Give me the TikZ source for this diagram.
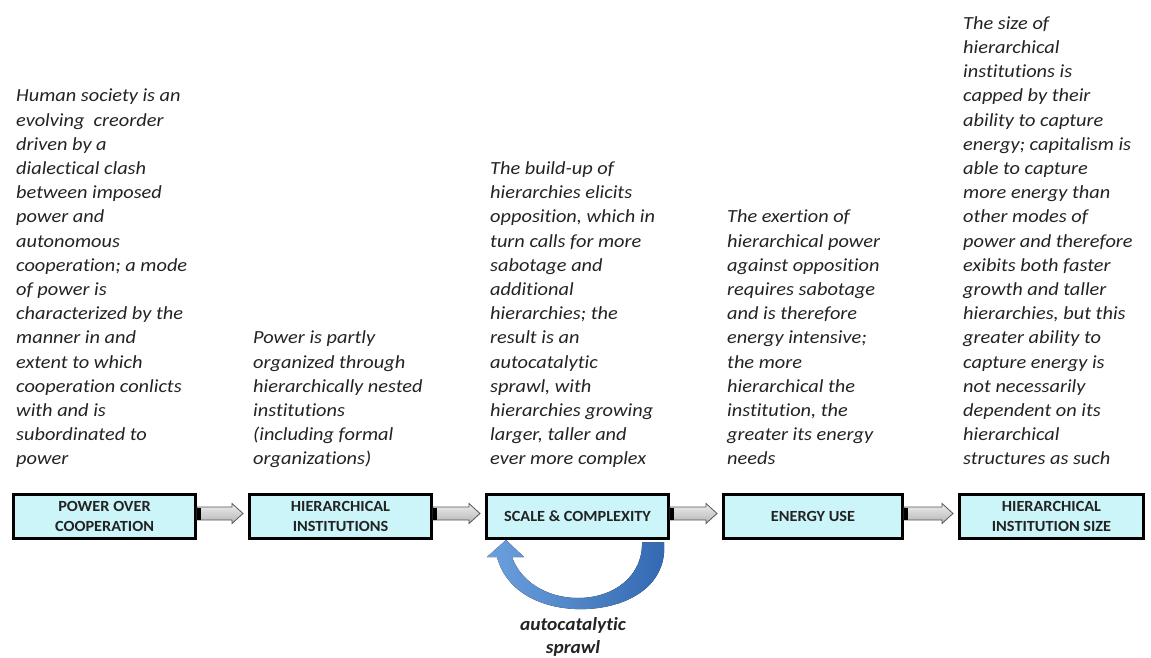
\documentclass[tikz,border=0pt]{standalone}
\usepackage{fontspec}
\setmainfont{Carlito}
\newfontfamily\descfont{Carlito}[FakeStretch=1.1, Ligatures=CommonOff]
\newfontfamily\labelfont{Carlito}[FakeStretch=1.05, Ligatures=CommonOff]
\usetikzlibrary{calc}
\definecolor{boxfill}{RGB}{204,245,250}
\definecolor{txt}{RGB}{35,35,35}
\definecolor{arrtop}{RGB}{238,238,238}
\definecolor{arrbot}{RGB}{180,180,180}
\definecolor{arrline}{RGB}{85,85,85}
\definecolor{bluedark}{RGB}{50,104,176}
\definecolor{bluelight}{RGB}{108,160,222}
\newcommand\flowarrow[2]{%
  \draw[arrline, line width=0.8pt, top color=arrtop, bottom color=arrbot]
    ($(#1.east)+(0,-9.5)$) -- ($(#2.west)+(-16,-9.5)$) -- ($(#2.west)+(-16,-13)$)
    -- ($(#2.west)+(-5,-3)$) -- ($(#2.west)+(-16,7)$) -- ($(#2.west)+(-16,3.5)$)
    -- ($(#1.east)+(0,3.5)$) -- cycle;
  \fill[black] ($(#1.east)+(0,-9)$) rectangle ($(#1.east)+(3.5,3)$);
}
\begin{document}
\begin{tikzpicture}[x=1pt,y=-1pt,
  desc/.style={anchor=south west, inner sep=0pt, align=left, text=txt,
    font=\descfont\fontsize{18.5}{24.2}\selectfont\itshape},
  stage/.style={draw=black, line width=2.6pt, fill=boxfill, minimum height=44.4pt,
    inner sep=0pt, align=center, text=txt,
    font=\labelfont\fontsize{15.5}{20}\selectfont\bfseries},
  loopfill/.style={left color=bluelight, right color=bluedark},
  looplabel/.style={align=center, inner sep=0pt, text=txt,
    font=\labelfont\fontsize{18.5}{23}\selectfont\bfseries\itshape}
]
\useasboundingbox (0,0) rectangle (1151,658);

% description texts
\node[desc] (t1) at (16,472.3) {Human society is an\\evolving\ \ creorder\\driven by a\\dialectical clash\\between imposed\\power and\\autonomous\\cooperation; a mode\\of power is\\characterized by the\\manner in and\\extent to which\\cooperation conlicts\\with and is\\subordinated to\\power\strut};
\node[desc] (t2) at (253,472.3) {Power is partly\\organized through\\hierarchically nested\\institutions\\(including formal\\organizations)\strut};
\node[desc] (t3) at (490,472.3) {The build-up of\\hierarchies elicits\\opposition, which in\\turn calls for more\\sabotage and\\additional\\hierarchies; the\\result is an\\autocatalytic\\sprawl, with\\hierarchies growing\\larger, taller and\\ever more complex\strut};
\node[desc] (t4) at (727,472.3) {The exertion of\\hierarchical power\\against opposition\\requires sabotage\\and is therefore\\energy intensive;\\the more\\hierarchical the\\institution, the\\greater its energy\\needs\strut};
\node[desc] (t5) at (963,472.3) {The size of\\hierarchical\\institutions is\\capped by their\\ability to capture\\energy; capitalism is\\able to capture\\more energy than\\other modes of\\power and therefore\\exibits both faster\\growth and taller\\hierarchies, but this\\greater ability to\\capture energy is\\not necessarily\\dependent on its\\hierarchical\\structures as such\strut};

% stage boxes
\node[stage, minimum width=182.4pt] (b1) at (104.5,516.5) {POWER OVER\\COOPERATION};
\node[stage, minimum width=182.4pt] (b2) at (340.5,516.5) {HIERARCHICAL\\INSTITUTIONS};
\node[stage, minimum width=182.4pt] (b3) at (577.5,516.5) {SCALE \& COMPLEXITY};
\node[stage, minimum width=179.4pt] (b4) at (813,516.5) {ENERGY USE};
\node[stage, minimum width=184.4pt] (b5) at (1051.5,516.5) {HIERARCHICAL\\INSTITUTION SIZE};

% block arrows
\flowarrow{b1}{b2}
\flowarrow{b2}{b3}
\flowarrow{b3}{b4}
\flowarrow{b4}{b5}

% autocatalytic loop arrow
\begin{scope}[shift={(b3.south)}]
  \coordinate (loopstart) at (86.5,2.3);
  \coordinate (looptip) at (-71.5,0);
  \fill[loopfill] (loopstart) .. controls (90.5,50) and (42.5,71) .. (-2.5,69)
    .. controls (-42.5,67) and (-72.5,48) .. (-80.5,17)
    -- (-90.5,17) -- (looptip) -- (-53.5,17) -- (-65.5,17)
    .. controls (-57.5,40) and (-32.5,58) .. (0.5,58)
    .. controls (37.5,58) and (65.5,35) .. (64.5,2.3) -- cycle;
  \node[looplabel] (lbl) at (-4.5,97) {autocatalytic\\sprawl};
\end{scope}
\end{tikzpicture}
\end{document}
